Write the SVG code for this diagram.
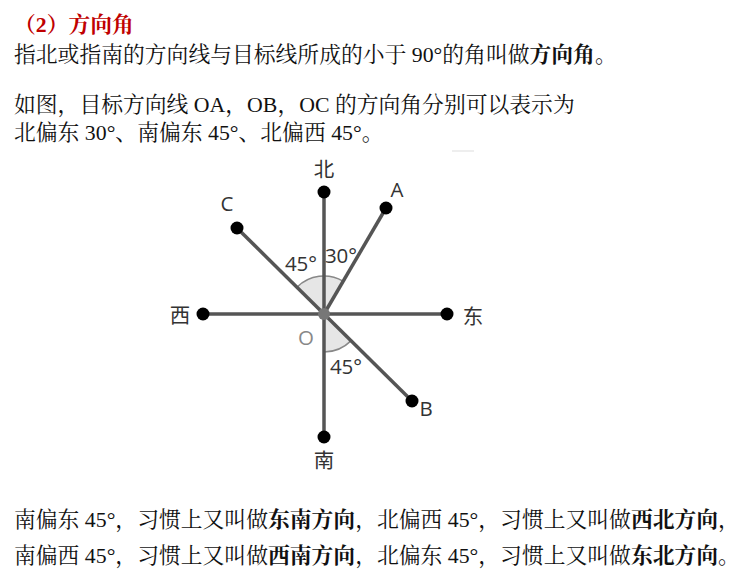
<svg xmlns="http://www.w3.org/2000/svg" width="739" height="585" viewBox="0 0 739 585">
<style>
.t{font-family:"Liberation Serif","Noto Serif CJK SC","Noto Sans CJK SC",serif;font-size:21.8px;fill:#111}
.b{font-weight:bold}
.h{font-weight:bold;fill:#c00000}
.lbl{font-family:"Open Sans","Noto Sans CJK SC",sans-serif;font-size:20.5px;fill:#333;text-anchor:middle;dominant-baseline:central}
.ln{stroke:#555;stroke-width:3.5;fill:none;stroke-linecap:butt}
.dot{fill:#000}
.arc{fill:#e6e6e6;stroke:#888;stroke-width:1.5}
</style>
<rect width="739" height="585" fill="#fff"/>
<g id="text">
<text class="t h" x="14" y="32">（2）方向角</text>
<text class="t" x="14" y="62">指北或指南的方向线与目标线所成的小于 90°的角叫做<tspan class="b">方向角</tspan>。</text>
<text class="t" x="14" y="112">如图，目标方向线 OA，OB，OC 的方向角分别可以表示为</text>
<text class="t" x="14" y="140">北偏东 30°、南偏东 45°、北偏西 45°。</text>
<text class="t" x="14" y="527">南偏东 45°，习惯上又叫做<tspan class="b">东南方向</tspan>，北偏西 45°，习惯上又叫做<tspan class="b">西北方向</tspan>，</text>
<text class="t" x="14" y="563">南偏西 45°，习惯上又叫做<tspan class="b">西南方向</tspan>，北偏东 45°，习惯上又叫做<tspan class="b">东北方向</tspan>。</text>
</g>
<line x1="452" y1="151" x2="474" y2="151" stroke="#ddd" stroke-width="1"/>
<g id="angles">
<path class="arc" d="M324,314 L297.1,287.1 A38,38 0 0 1 343,281.1 Z"/>
<path class="arc" d="M324,314 L324,352 A38,38 0 0 0 350.9,340.9 Z"/>
</g>
<g id="connectors">
<line class="ln" x1="324" y1="314" x2="324" y2="192"/>
<line class="ln" x1="324" y1="314" x2="324" y2="437"/>
<line class="ln" x1="324" y1="314" x2="203" y2="314"/>
<line class="ln" x1="324" y1="314" x2="447" y2="314"/>
<line class="ln" x1="324" y1="314" x2="386" y2="208"/>
<line class="ln" x1="324" y1="314" x2="237" y2="228"/>
<line class="ln" x1="324" y1="314" x2="412" y2="401"/>
</g>
<g id="node-north"><circle class="dot" cx="324" cy="192" r="6.5"/><text class="lbl" x="324" y="169">北</text></g>
<g id="node-south"><circle class="dot" cx="324" cy="437" r="6.5"/><text class="lbl" x="324" y="460">南</text></g>
<g id="node-west"><circle class="dot" cx="203" cy="314" r="6.5"/><text class="lbl" x="180" y="315">西</text></g>
<g id="node-east"><circle class="dot" cx="447" cy="314" r="6.5"/><text class="lbl" x="473" y="316">东</text></g>
<g id="node-A"><circle class="dot" cx="386" cy="208" r="6.5"/><text class="lbl" x="397" y="189">A</text></g>
<g id="node-C"><circle class="dot" cx="237" cy="228" r="6.5"/><text class="lbl" x="227" y="203">C</text></g>
<g id="node-B"><circle class="dot" cx="412" cy="401" r="6.5"/><text class="lbl" x="426" y="408">B</text></g>
<g id="node-O"><circle cx="324" cy="314" r="6" fill="#777"/><text class="lbl" x="306" y="337" style="fill:#888">O</text></g>
<g id="angle-labels">
<text class="lbl" x="301" y="263">45°</text>
<text class="lbl" x="341" y="255">30°</text>
<text class="lbl" x="346" y="366">45°</text>
</g>
</svg>
